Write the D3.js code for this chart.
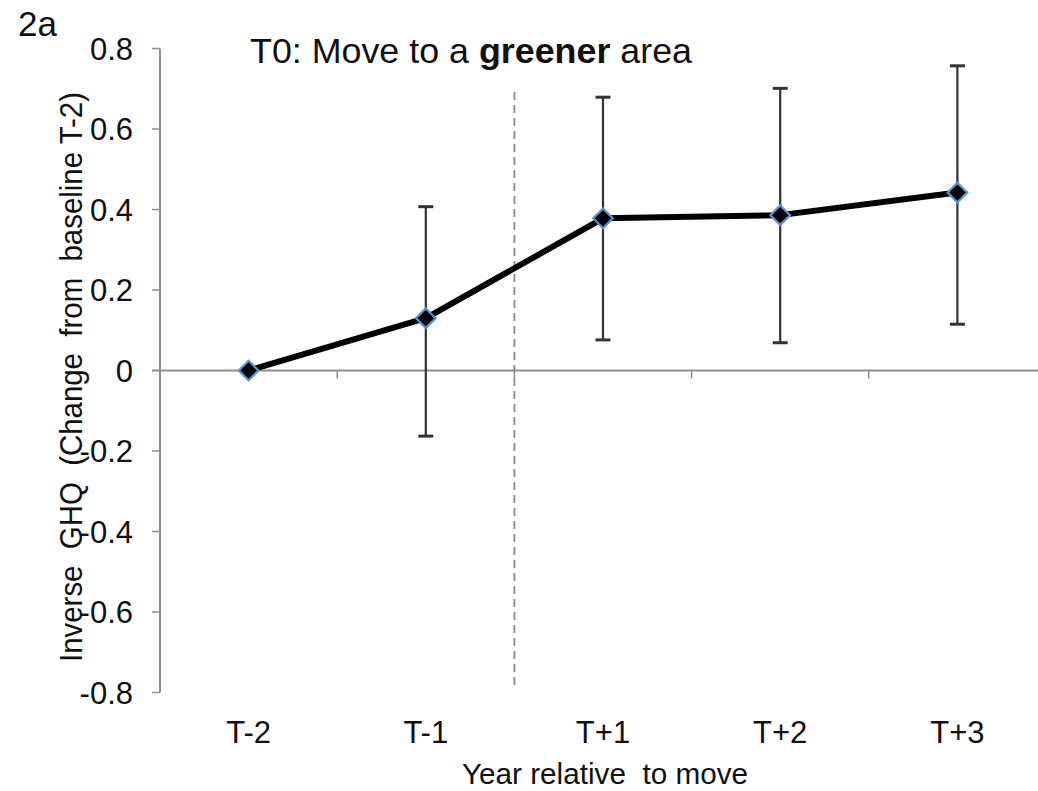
<!DOCTYPE html>
<html><head><meta charset="utf-8">
<script src="https://cdn.jsdelivr.net/npm/d3@7"></script>
<style>body{margin:0;background:#fff}svg{display:block}text{font-family:"Liberation Sans",Arial,sans-serif;fill:#111}</style>
</head><body><svg id="c" width="1038" height="791"></svg>
<script>
const categories = ["T-2","T-1","T+1","T+2","T+3"];
const values = [0, 0.13, 0.378, 0.386, 0.442];
const upper = [null, 0.407, 0.679, 0.701, 0.757];
const lower = [null, -0.163, 0.076, 0.069, 0.115];
const yTicks = [0.8,0.6,0.4,0.2,0,-0.2,-0.4,-0.6,-0.8];
const yTickLabels = ["0.8","0.6","0.4","0.2","0","-0.2","-0.4","-0.6","-0.8"];

const svg = d3.select("#c");
const x = d3.scaleBand().domain(categories).range([160, 1046]);
const y = d3.scaleLinear().domain([-0.8, 0.8]).range([692.5, 48.5]);
const axisColor = "#8f8f8f";

// y axis
svg.append("line").attr("x1",160).attr("x2",160).attr("y1",y(0.8)).attr("y2",y(-0.8)).attr("stroke",axisColor).attr("stroke-width",2);
yTicks.forEach((t,i)=>{
  svg.append("line").attr("x1",152).attr("x2",160).attr("y1",y(t)).attr("y2",y(t)).attr("stroke",axisColor).attr("stroke-width",1.5);
  svg.append("text").attr("x",133).attr("y",y(t)+11).attr("text-anchor","end").attr("font-size",31).text(yTickLabels[i]);
});
// zero line with category ticks
svg.append("line").attr("x1",152).attr("x2",1046).attr("y1",y(0)).attr("y2",y(0)).attr("stroke",axisColor).attr("stroke-width",2);
categories.slice(1).forEach(c=>{
  svg.append("line").attr("x1",x(c)).attr("x2",x(c)).attr("y1",y(0)).attr("y2",y(0)+8).attr("stroke",axisColor).attr("stroke-width",1.5);
});
// category labels
categories.forEach(c=>{
  svg.append("text").attr("x",x(c)+x.bandwidth()/2).attr("y",743).attr("text-anchor","middle").attr("font-size",31).text(c);
});
// dashed line at move
svg.append("line").attr("x1",x("T+1")).attr("x2",x("T+1")).attr("y1",92).attr("y2",685)
  .attr("stroke","#8a8a8a").attr("stroke-width",1.8).attr("stroke-dasharray","8,5");

const cx = c => x(c)+x.bandwidth()/2;
// error bars
categories.forEach((c,i)=>{
  if(upper[i]==null) return;
  const g = svg.append("g").attr("stroke","#333").attr("stroke-width",2.2);
  g.append("line").attr("x1",cx(c)).attr("x2",cx(c)).attr("y1",y(upper[i])).attr("y2",y(lower[i]));
  g.append("line").attr("x1",cx(c)-7.5).attr("x2",cx(c)+7.5).attr("y1",y(upper[i])).attr("y2",y(upper[i])).attr("stroke-width",3);
  g.append("line").attr("x1",cx(c)-7.5).attr("x2",cx(c)+7.5).attr("y1",y(lower[i])).attr("y2",y(lower[i])).attr("stroke-width",3);
});
// line
const line = d3.line().x((d,i)=>cx(categories[i])).y(d=>y(d));
svg.append("path").datum(values).attr("d",line).attr("fill","none").attr("stroke","#000").attr("stroke-width",6).attr("stroke-linejoin","round");
// markers
categories.forEach((c,i)=>{
  svg.append("path").attr("d",d3.symbol().type(d3.symbolSquare).size(190)())
    .attr("transform",`translate(${cx(c)},${y(values[i])}) rotate(45)`)
    .attr("fill","#000").attr("stroke","#5b8fd0").attr("stroke-width",2.2);
});

// titles
svg.append("text").attr("x",18).attr("y",36).attr("font-size",35).text("2a");
const t = svg.append("text").attr("x",250).attr("y",63).attr("font-size",35).attr("textLength",442).attr("lengthAdjust","spacingAndGlyphs");
t.append("tspan").text("T0: Move to a ");
t.append("tspan").attr("font-weight","bold").text("greener");
t.append("tspan").text(" area");
svg.append("text").attr("x",605).attr("y",784).attr("text-anchor","middle").attr("font-size",29)
  .attr("textLength",286).attr("lengthAdjust","spacingAndGlyphs").style("white-space","pre").text("Year relative  to move");
svg.append("text").attr("transform","translate(82,377) rotate(-90)").attr("text-anchor","middle").attr("font-size",31)
  .attr("textLength",570).attr("lengthAdjust","spacingAndGlyphs").style("white-space","pre").text("Inverse  GHQ  (Change  from  baseline T-2)");
</script></body></html>
